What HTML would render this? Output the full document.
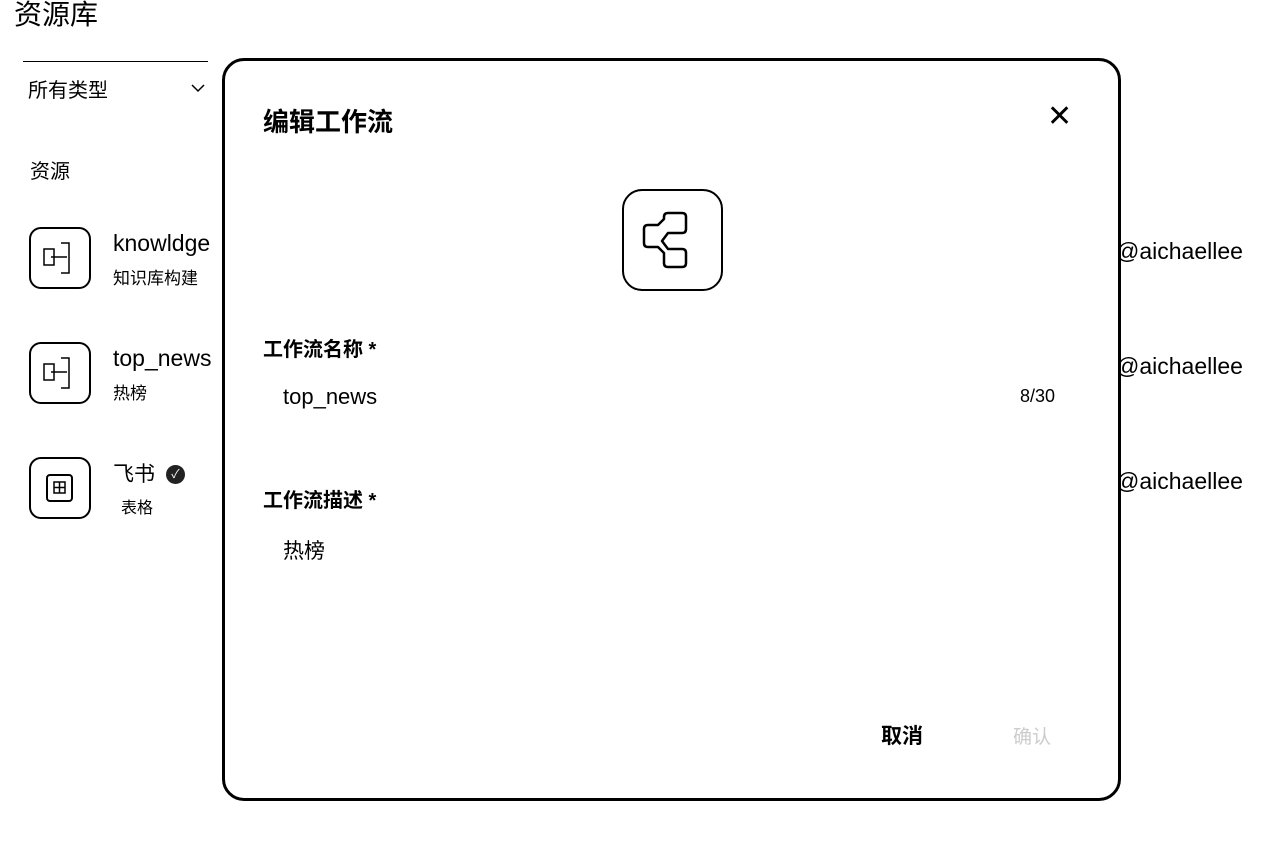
<!DOCTYPE html>
<html><head><meta charset="utf-8"><style>
body{margin:0;width:1280px;height:855px;background:#fff;position:relative;overflow:hidden;font-family:"Liberation Sans","Noto Sans CJK SC",sans-serif;color:#000}
.a{position:absolute;white-space:nowrap}
.ic{position:absolute;width:62px;height:62px;border:2px solid #000;border-radius:12px;box-sizing:border-box}
.modal{position:absolute;left:222px;top:58px;width:899px;height:743px;border:3px solid #000;border-radius:22px;box-sizing:border-box;background:#fff}
</style></head><body>
<div class="a" style="left:14px;top:-7px;font-size:28px">资源库</div>
<div class="a" style="left:23px;top:61px;width:185px;border-top:1px solid #000"></div>
<div class="a" style="left:28px;top:74px;font-size:20px">所有类型</div>
<svg class="a" style="left:190px;top:83px" width="16" height="10"><path d="M2 2l6 6 6-6" fill="none" stroke="#000" stroke-width="1.5"/></svg>
<div class="a" style="left:30px;top:155px;font-size:20px">资源</div>

<div class="ic" style="left:29px;top:227px"><svg width="58" height="58" viewBox="0 0 58 58"><path d="M13 20h10v16H13zM30 14h8v8M30 44h8v-8M38 20v18M20 28h16" fill="none" stroke="#000" stroke-width="1.5"/></svg></div>
<div class="a" style="left:113px;top:230px;font-size:23px">knowldge</div>
<div class="a" style="left:113px;top:264px;font-size:17px">知识库构建</div>

<div class="ic" style="left:29px;top:342px"><svg width="58" height="58" viewBox="0 0 58 58"><path d="M13 20h10v16H13zM30 14h8v8M30 44h8v-8M38 20v18M20 28h16" fill="none" stroke="#000" stroke-width="1.5"/></svg></div>
<div class="a" style="left:113px;top:345px;font-size:23px">top_news</div>
<div class="a" style="left:113px;top:379px;font-size:17px">热榜</div>

<div class="ic" style="left:29px;top:457px"><svg width="58" height="58" viewBox="0 0 58 58"><rect x="16" y="16" width="25" height="26" rx="3" fill="none" stroke="#000" stroke-width="2"/><path d="M23 23h11v11H23zM28.5 23v11M23 28.5h11" fill="none" stroke="#000" stroke-width="1.5"/></svg></div>
<div class="a" style="left:113px;top:458px;font-size:21px">飞书</div>
<div class="a" style="left:166px;top:465px;width:19px;height:19px;border-radius:50%;background:#222;color:#fff;font-size:12px;line-height:19px;text-align:center">✓</div>
<div class="a" style="left:121px;top:494px;font-size:16px">表格</div>

<div class="a" style="left:1116px;top:238px;font-size:23px">@aichaellee</div>
<div class="a" style="left:1116px;top:353px;font-size:23px">@aichaellee</div>
<div class="a" style="left:1116px;top:468px;font-size:23px">@aichaellee</div>

<div class="modal">
<div class="a" style="left:38px;top:41px;font-size:26px;font-weight:bold">编辑工作流</div>
<div class="a" style="left:822px;top:38px;font-size:30px">✕</div>
<div class="a" style="left:397px;top:128px;width:101px;height:102px;border:2px solid #000;border-radius:20px;box-sizing:border-box">
<svg width="97" height="98" viewBox="0 0 97 98"><path d="M24 34q-4 0-4 4v14q0 4 4 4h10l6 6v10q0 4 4 4h14q4 0 4-4v-10q0-4-4-4H44l-6-8 6-8h14q4 0 4-4V26q0-4-4-4H44q-4 0-4 4v2l-6 6z" fill="none" stroke="#000" stroke-width="2.5" stroke-linejoin="round"/></svg></div>
<div class="a" style="left:38px;top:272px;font-size:20px;font-weight:bold">工作流名称 *</div>
<div class="a" style="left:58px;top:323px;font-size:22px">top_news</div>
<div class="a" style="left:795px;top:325px;font-size:18px">8/30</div>
<div class="a" style="left:38px;top:423px;font-size:20px;font-weight:bold">工作流描述 *</div>
<div class="a" style="left:58px;top:474px;font-size:21px">热榜</div>
<div class="a" style="left:656px;top:659px;font-size:21px;font-weight:bold">取消</div>
<div class="a" style="left:788px;top:661px;font-size:19px;color:#ccc">确认</div>
</div>
</body></html>
